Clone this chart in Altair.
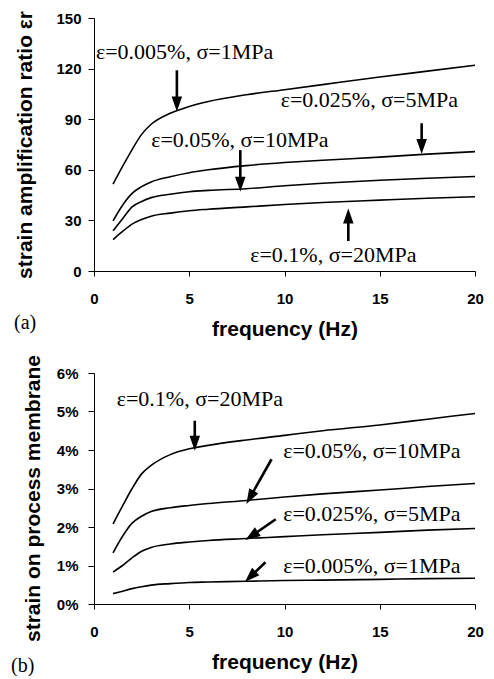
import math
import altair as alt
import pandas as pd

# ---------------- data ----------------
freq = [1, 1.5, 2, 2.5, 3, 4, 5, 6, 8, 10, 12, 15, 17.5, 20]

# panel (a): strain amplification ratio
a_names = ["e0.005", "e0.025", "e0.05", "e0.1"]
a_s1 = [51.5, 62, 72, 81, 87, 93.5, 97.5, 100.5, 104.5, 107.5, 110.5, 115, 118.5, 122]
a_s2 = [29.7, 39, 46, 50, 52.8, 55.9, 58.3, 60, 62.5, 64.3, 65.7, 67.5, 69.3, 70.8]
a_s3 = [23.8, 31, 38, 41.2, 43.5, 45.5, 47, 47.8, 48.8, 50.5, 52, 53.8, 55, 56]
a_s4 = [18.6, 23.5, 27.8, 30.5, 32.5, 34.3, 35.7, 36.6, 38, 39.4, 40.6, 42, 43.1, 44]
a_yticks = [0, 30, 60, 90, 120, 150]

a_text = ["ε=0.005%, σ=1MPa", "ε=0.025%, σ=5MPa", "ε=0.05%, σ=10MPa", "ε=0.1%, σ=20MPa"]
a_text_x = [0.1, 9.8, 3.0, 8.2]
a_text_y = [130, 101.4, 77.7, 9.5]
a_arrow_x1 = [4.35, 17.2, 7.68, 13.35]
a_arrow_y1 = [119, 87.6, 71.7, 17.8]
a_arrow_x2 = [4.35, 17.2, 7.68, 13.35]
a_arrow_y2 = [94.5, 69.3, 47, 37]

# panel (b): strain on process membrane (%)
b_names = ["e0.1", "e0.05", "e0.025", "e0.005"]
b_s1 = [2.08, 2.55, 3.0, 3.38, 3.6, 3.88, 4.03, 4.12, 4.26, 4.38, 4.5, 4.65, 4.8, 4.95]
b_s2 = [1.33, 1.76, 2.1, 2.28, 2.40, 2.50, 2.56, 2.61, 2.69, 2.78, 2.86, 2.96, 3.05, 3.13]
b_s3 = [0.83, 1.0, 1.2, 1.37, 1.47, 1.56, 1.61, 1.65, 1.70, 1.75, 1.80, 1.86, 1.92, 1.96]
b_s4 = [0.27, 0.33, 0.40, 0.45, 0.49, 0.53, 0.56, 0.57, 0.59, 0.61, 0.62, 0.64, 0.66, 0.67]
b_yticks = [0, 1, 2, 3, 4, 5, 6]

b_text = ["ε=0.1%, σ=20MPa", "ε=0.05%, σ=10MPa", "ε=0.025%, σ=5MPa", "ε=0.005%, σ=1MPa"]
b_text_x = [1.19, 9.93, 9.93, 9.93]
b_text_y = [5.32, 3.97, 2.34, 0.99]
b_arrow_x1 = [5.29, 9.32, 9.54, 9.0]
b_arrow_y1 = [4.76, 3.76, 2.20, 1.085]
b_arrow_x2 = [5.29, 8.0, 7.95, 7.92]
b_arrow_y2 = [3.98, 2.60, 1.66, 0.573]

x_ticks = [0, 5, 10, 15, 20]
panel_tags = ["(a)", "(b)"]

# ---------------- helpers ----------------
HEAD = "M0,0 L-0.7,-2 L0.7,-2 Z"
SERIF = "Liberation Serif"


def lines_df(names, series):
    rows = []
    for n, s in zip(names, series):
        for f, v in zip(freq, s):
            rows.append({"s": n, "f": f, "v": v})
    return pd.DataFrame(rows)


def arrows_df(x1, y1, x2, y2, sx, sy):
    rows = []
    for a, b, c, d in zip(x1, y1, x2, y2):
        dxp = (c - a) * sx
        dyp = -(d - b) * sy
        L = math.hypot(dxp, dyp)
        ux, uy = dxp / L, dyp / L
        ang = math.degrees(math.atan2(-ux, uy)) % 360
        xe = c - ux * 10 / sx
        ye = d + uy * 10 / sy
        rows.append({"x1": a, "y1": b, "xe": xe, "ye": ye, "xt": c, "yt": d, "ang": ang})
    return pd.DataFrame(rows)


def panel(names, series, ymax, yticks, ytitle, texts, tx, ty, ax1, ay1, ax2, ay2,
          w, h, tag, tag_dx, tag_dy, pct, ytitle_x, ytitle_y, ylab_pad):
    xs = alt.Scale(domain=[0, 20], nice=False)
    ys = alt.Scale(domain=[0, ymax], nice=False)
    xaxis = alt.Axis(values=x_ticks, title="frequency (Hz)", tickSize=5,
                     labelPadding=15, titlePadding=12, labelFlush=False)
    yargs = dict(values=yticks, title=ytitle, tickSize=6, labelPadding=ylab_pad,
                 labelOverlap=False, titleX=ytitle_x, titleY=ytitle_y,
                 titleBaseline="middle", titleAlign="center", titleAngle=270)
    if pct:
        yargs["labelExpr"] = "datum.value + '%'"
    yaxis = alt.Axis(**yargs)

    def X(f):
        return alt.X(f, scale=xs, axis=xaxis)

    def Y(f):
        return alt.Y(f, scale=ys, axis=yaxis)

    base_lines = alt.Chart(lines_df(names, series)).mark_line(
        color="black", strokeWidth=1.6, interpolate="monotone"
    ).encode(x=X("f:Q"), y=Y("v:Q"), detail="s:N")

    tdf = pd.DataFrame({"t": texts, "x": tx, "y": ty})
    txt = alt.Chart(tdf).mark_text(
        align="left", baseline="middle", font=SERIF, fontSize=22, color="black"
    ).encode(x=X("x:Q"), y=Y("y:Q"), text="t:N")

    adf = arrows_df(ax1, ay1, ax2, ay2, w / 20.0, h / float(ymax))
    shafts = alt.Chart(adf).mark_rule(color="black", strokeWidth=2.6).encode(
        x=X("x1:Q"), y=Y("y1:Q"), x2="xe:Q", y2="ye:Q",
    )
    heads = alt.Chart(adf).mark_point(
        shape=HEAD, filled=True, size=225, color="black", opacity=1, strokeWidth=0
    ).encode(
        x=X("xt:Q"), y=Y("yt:Q"), angle=alt.Angle("ang:Q", scale=None),
    )

    tagc = alt.Chart(pd.DataFrame({"t": [tag]})).mark_text(
        align="left", baseline="middle", font=SERIF, fontSize=20, color="black"
    ).encode(x=alt.value(tag_dx), y=alt.value(h + tag_dy), text="t:N")

    return alt.layer(base_lines, txt, shafts, heads, tagc).properties(width=w, height=h)


pa = panel(a_names, [a_s1, a_s2, a_s3, a_s4], 150, a_yticks,
           "strain amplification ratio εr", a_text, a_text_x, a_text_y,
           a_arrow_x1, a_arrow_y1, a_arrow_x2, a_arrow_y2,
           381, 253, panel_tags[0], -80, 52, False, -69, 126.5, 7)
pb = panel(b_names, [b_s1, b_s2, b_s3, b_s4], 6, b_yticks,
           "strain on process membrane", b_text, b_text_x, b_text_y,
           b_arrow_x1, b_arrow_y1, b_arrow_x2, b_arrow_y2,
           381, 231, panel_tags[1], -83, 62, True, -61, 125, 10)

chart = alt.concat(pa, pb, columns=1, spacing=15, align="none").properties(
    padding={"left": 3, "top": 2, "right": 0, "bottom": 0}
).configure_view(stroke=None).configure_axis(
    grid=False,
    labelFont="Liberation Sans", labelFontWeight="bold", labelFontSize=15, labelColor="black",
    titleFont="Liberation Sans", titleFontWeight="bold", titleFontSize=21, titleColor="black",
    domainColor="black", tickColor="black", domainWidth=1, tickWidth=1,
)

chart.save("out.html", embed_options={"renderer": "svg", "actions": False})
